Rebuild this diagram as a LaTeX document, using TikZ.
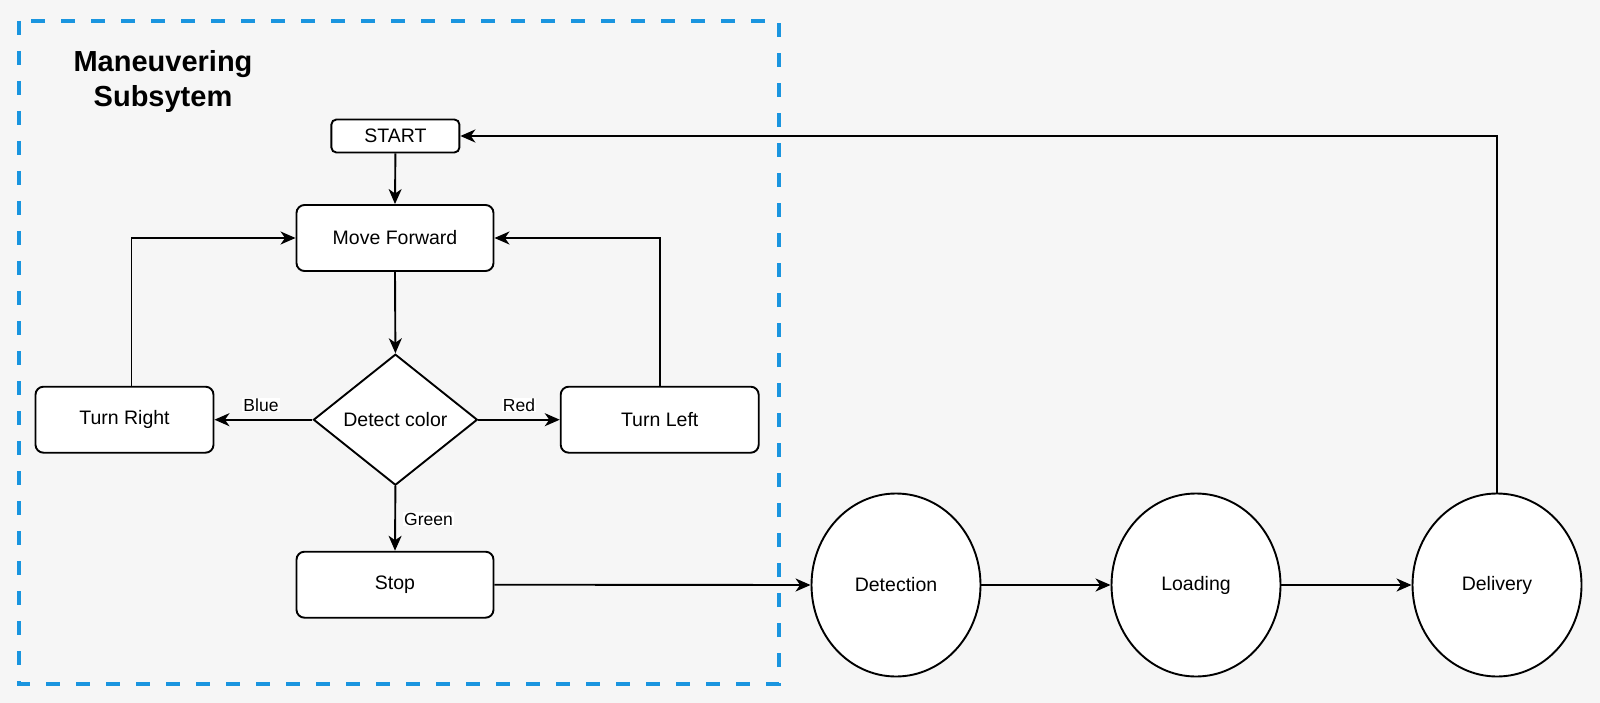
\documentclass[tikz,border=0pt]{standalone}
\usepackage{fontspec}
\setmainfont{Liberation Sans}
\usetikzlibrary{arrows.meta,shapes.geometric}
\definecolor{bg}{HTML}{F6F6F6}
\definecolor{dashblue}{HTML}{1A95DF}
\tikzset{
  base/.style={draw=black, fill=white, line width=1.9pt, inner sep=0pt, font=\fontsize{19.5}{23}\selectfont},
  box/.style={base, rectangle, rounded corners=8pt, minimum width=197pt, minimum height=66pt},
  smallbox/.style={base, rectangle, rounded corners=5pt, minimum width=128pt, minimum height=33pt},
  decision/.style={base, diamond, minimum width=164pt, minimum height=131pt},
  stage/.style={base, ellipse, minimum width=169pt, minimum height=183pt},
  conn/.style={line width=1.9pt, -{Stealth[length=15pt,width=13pt,inset=4.5pt]}},
  lbl/.style={fill=white, inner sep=1pt, font=\fontsize{17.5}{20}\selectfont},
  title/.style={font=\bfseries\fontsize{29}{35}\selectfont, align=center}
}
\begin{document}
\begin{tikzpicture}[x=1pt,y=-1pt]
\fill[bg] (0,0) rectangle (1600,703);
\useasboundingbox (0,0) rectangle (1600,703);

\node[title] (ttl) at (163,82) {Maneuvering\\Subsytem};

\node[smallbox] (start) at (395.4,136) {START};
\node[box] (move) at (395,238) {Move Forward};
\node[box, minimum width=178pt] (tr) at (124.5,419.7) {Turn Right};
\node[decision] (dia) at (395.4,419.7) {Detect color};
\node[box, minimum width=198pt] (tl) at (659.7,419.7) {Turn Left};
\node[box] (stop) at (395,584.7) {Stop};
\node[stage] (det) at (896,585) {Detection};
\node[stage] (load) at (1196,585) {Loading};
\node[stage] (del) at (1497,585) {Delivery};

\draw[conn] (start.south) -- (move.north);
\draw[conn] (move.south) -- (dia.north);
\draw[conn] (dia.west) -- (tr.east);
\draw[conn] (dia.east) -- (tl.west);
\draw[conn] (dia.south) -- (stop.north);
\draw[conn] ([xshift=7pt]tr.north) |- (move.west);
\draw[conn] (tl.north) |- (move.east);
\draw[conn] (stop.east) -- (det.west);
\draw[conn] (det.east) -- (load.west);
\draw[conn] (load.east) -- (del.west);
\draw[conn] (del.north) |- (start.east);

\node[lbl] (lblue) at (261,405) {Blue};
\node[lbl] (lred) at (519,405) {Red};
\node[lbl, anchor=west] (lgreen) at (403,519) {Green};

\draw[dashblue, line width=4.5pt, dash pattern=on 14pt off 16pt] (19,21) rectangle (779,684);
\end{tikzpicture}
\end{document}
